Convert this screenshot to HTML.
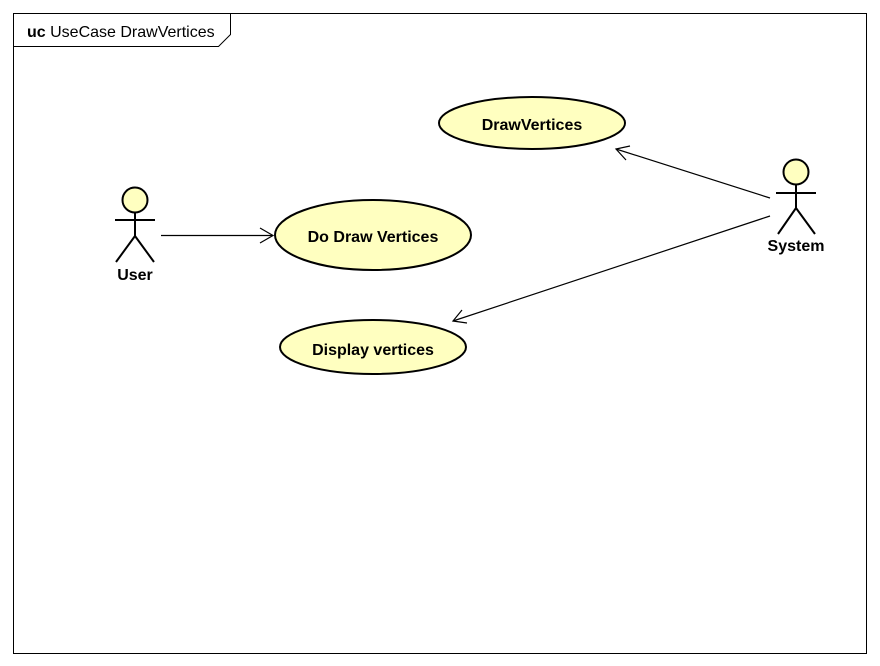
<!DOCTYPE html>
<html><head><meta charset="utf-8"><style>
body{margin:0;background:#fff;width:880px;height:666px;overflow:hidden}
svg{display:block}
text{font-family:"Liberation Sans",Arial,sans-serif;fill:#000}
</style></head><body>
<svg width="880" height="666" viewBox="0 0 880 666">
<rect x="13.5" y="13.5" width="853" height="640" fill="#fff" stroke="#000" stroke-width="1"/>
<polyline points="13.5,46.5 218.5,46.5 230.5,34.5 230.5,13.5" fill="none" stroke="#000"/>
<text x="27" y="37" font-size="16"><tspan font-weight="bold">uc</tspan> UseCase DrawVertices</text>

<g stroke="#000" stroke-width="2" fill="#ffffc0">
<ellipse cx="532" cy="123" rx="93" ry="26"/>
<ellipse cx="373" cy="235" rx="98" ry="35"/>
<ellipse cx="373" cy="347" rx="93" ry="27"/>
</g>
<g font-size="16" font-weight="bold" text-anchor="middle">
<text x="532" y="130">DrawVertices</text>
<text x="373" y="242">Do Draw Vertices</text>
<text x="373" y="355">Display vertices</text>
</g>

<g stroke="#000" stroke-width="2" fill="none">
<circle cx="135" cy="200" r="12.5" fill="#ffffc0"/>
<line x1="115" y1="220" x2="155" y2="220"/>
<line x1="135" y1="212" x2="135" y2="236"/>
<polyline points="116,262 135,236 154,262"/>
<circle cx="796" cy="172" r="12.5" fill="#ffffc0"/>
<line x1="776" y1="193" x2="816" y2="193"/>
<line x1="796" y1="184" x2="796" y2="208"/>
<polyline points="778,234 796,208 815,234"/>
</g>
<g font-size="16" font-weight="bold" text-anchor="middle">
<text x="135" y="280">User</text>
<text x="796" y="251">System</text>
</g>

<g stroke="#000" stroke-width="1.2" fill="none">
<line x1="161" y1="235.5" x2="273" y2="235.5"/>
<polyline points="260,228 273,235.5 260,243"/>
<line x1="770" y1="198" x2="616" y2="149"/>
<polyline points="630,146 616,149 626,160"/>
<line x1="770" y1="216" x2="453" y2="321"/>
<polyline points="462,310 453,321 467,323"/>
</g>
</svg>
</body></html>
